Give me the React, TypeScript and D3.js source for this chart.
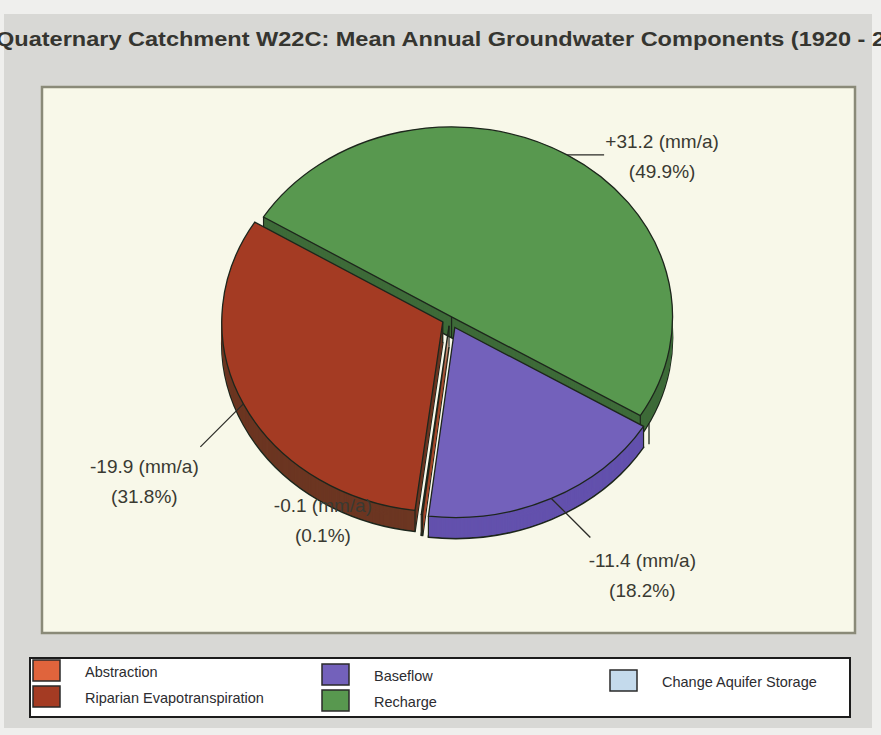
import React from 'react';
import * as d3 from 'd3';

// Groundwater balance components, W22C
const categories = [
  'Abstraction',
  'Riparian Evapotranspiration',
  'Baseflow',
  'Recharge',
  'Change Aquifer Storage',
];
const annualMm = [-0.1, -19.9, -11.4, 31.2, 0];
const sharePct = [0.1, 31.8, 18.2, 49.9, 0];

// slice order going clockwise from the upper-left boundary of Recharge
const pieOrder = [3, 4, 2, 0, 1];

const topColors = ['#e0643c', '#a43b23', '#7361bb', '#58984f', '#c4daec'];
const sideColors = ['#a4482c', '#6c3622', '#6351ad', '#3e6b39', '#8fa6b8'];
const explode = [8, 8, 11, 3, 12];

// label placement relative to the slice's outer rim point at its mid-angle
const leaderEnd: Record<number, [number, number] | null> = {
  3: [37, 0],
  1: [-43, 43],
  2: [39, 39],
  0: null,
};
const textAt: Record<number, [number, number]> = {
  3: [95, -7],
  1: [-99, 69],
  2: [91, 69],
  0: [-99, -2],
};

const W = 881;
const H = 735;
const CX = 450;
const CY = 319;
const RX = 221;
const RY = 190;
const K = RY / RX;
const DEPTH = 21;
const START = (-58.3 * Math.PI) / 180;
const OUTLINE = '#1d261c';
const FONT = "'Liberation Sans', Arial, sans-serif";

const fmt = (v: number) => `${v > 0 ? '+' : ''}${v.toFixed(1)} (mm/a)`;

export default function App() {
  const pie = d3
    .pie<number>()
    .sort(null)
    .value((i) => sharePct[i])
    .startAngle(START)
    .endAngle(START + 2 * Math.PI);
  const arcs = pie(pieOrder);
  const arcGen = d3
    .arc<d3.PieArcDatum<number>>()
    .innerRadius(0)
    .outerRadius(RX);

  const mid = (a: d3.PieArcDatum<number>) => (a.startAngle + a.endAngle) / 2;
  // paint back slices first
  const painted = [...arcs].sort((a, b) => -Math.cos(mid(a)) + Math.cos(mid(b)));

  const slices = painted.map((a) => {
    const i = a.data;
    const m = mid(a);
    const e = explode[i];
    const ox = CX + Math.sin(m) * e;
    const oy = CY - Math.cos(m) * e * K;
    const rimX = (ang: number) => RX * Math.sin(ang);
    const rimY = (ang: number) => -RX * Math.cos(ang) * K;

    // an empty slice only leaves its vertical rim edge
    if (a.endAngle - a.startAngle < 1e-9) {
      const x = rimX(a.startAngle);
      const y = rimY(a.startAngle);
      return (
        <g key={categories[i]} transform={`translate(${ox},${oy})`}>
          <line x1={x} y1={y} x2={x} y2={y + DEPTH} stroke={OUTLINE} strokeWidth={1.3} />
        </g>
      );
    }

    const d = arcGen(a) || '';
    const depthSteps = d3.range(DEPTH, 0, -1);
    const corners = [a.startAngle, a.endAngle, null];
    return (
      <g key={categories[i]} transform={`translate(${ox},${oy})`}>
        {depthSteps.map((t) => (
          <path
            key={t}
            d={d}
            transform={`translate(0,${t}) scale(1,${K})`}
            fill={sideColors[i]}
            stroke={t === DEPTH ? OUTLINE : 'none'}
            strokeWidth={1.6}
            vectorEffect="non-scaling-stroke"
          />
        ))}
        {corners.map((ang, j) => {
          const x = ang === null ? 0 : rimX(ang);
          const y = ang === null ? 0 : rimY(ang);
          return (
            <line
              key={j}
              x1={x}
              y1={y}
              x2={x}
              y2={y + DEPTH}
              stroke={OUTLINE}
              strokeWidth={1.2}
            />
          );
        })}
        <path
          d={d}
          transform={`scale(1,${K})`}
          fill={topColors[i]}
          stroke={OUTLINE}
          strokeWidth={1.3}
          vectorEffect="non-scaling-stroke"
        />
      </g>
    );
  });

  const labels = arcs
    .filter((a) => annualMm[a.data] !== 0)
    .map((a) => {
      const i = a.data;
      const m = mid(a);
      const e = explode[i];
      const ex = CX + Math.sin(m) * (e + RX);
      const ey = CY - Math.cos(m) * (e + RX) * K;
      const le = leaderEnd[i];
      const [tx, ty] = textAt[i];
      return (
        <g key={categories[i]}>
          {le && (
            <line
              x1={ex}
              y1={ey}
              x2={ex + le[0]}
              y2={ey + le[1]}
              stroke="#2a2a26"
              strokeWidth={1.3}
            />
          )}
          <text
            x={ex + tx}
            y={ey + ty}
            textAnchor="middle"
            fontFamily={FONT}
            fontSize={19}
            fill="#3a3a32"
          >
            <tspan x={ex + tx}>{fmt(annualMm[i])}</tspan>
            <tspan x={ex + tx} dy={30}>{`(${sharePct[i].toFixed(1)}%)`}</tspan>
          </text>
        </g>
      );
    });

  // legend: three columns
  const legendCols = [
    { x: 33, y: 660, items: [0, 1] },
    { x: 322, y: 664, items: [2, 3] },
    { x: 610, y: 670, items: [4] },
  ];

  return (
    <svg
      width={W}
      height={H}
      viewBox={`0 0 ${W} ${H}`}
      style={{ position: 'absolute', left: 0, top: 0, display: 'block' }}
    >
      <rect x={0} y={0} width={W} height={H} fill="#efefed" />
      <rect x={4} y={14} width={868} height={714} fill="#d8d8d5" />

      <text
        x={-4}
        y={46}
        fontFamily={FONT}
        fontWeight="bold"
        fontSize={21}
        fill="#353530"
      >
        <tspan textLength={889} lengthAdjust="spacingAndGlyphs">
          Quaternary Catchment W22C: Mean Annual Groundwater Components (1920 - 2
        </tspan>
        <tspan>004)</tspan>
      </text>

      <rect
        x={42}
        y={87}
        width={813}
        height={546}
        fill="#f8f8e9"
        stroke="#8a8a78"
        strokeWidth={2.5}
      />

      {slices}
      {labels}

      <rect
        x={30}
        y={658}
        width={820}
        height={59}
        fill="#ffffff"
        stroke="#1c1c1c"
        strokeWidth={2}
      />
      {legendCols.map((col) =>
        col.items.map((i, r) => (
          <g key={categories[i]}>
            <rect
              x={col.x}
              y={col.y + r * 26}
              width={27}
              height={21}
              fill={topColors[i]}
              stroke="#2a2a2a"
              strokeWidth={1.5}
            />
            <text
              x={col.x + 52}
              y={col.y + r * 26 + 17}
              fontFamily={FONT}
              fontSize={14.5}
              fill="#2c2c30"
            >
              {categories[i]}
            </text>
          </g>
        ))
      )}
    </svg>
  );
}
